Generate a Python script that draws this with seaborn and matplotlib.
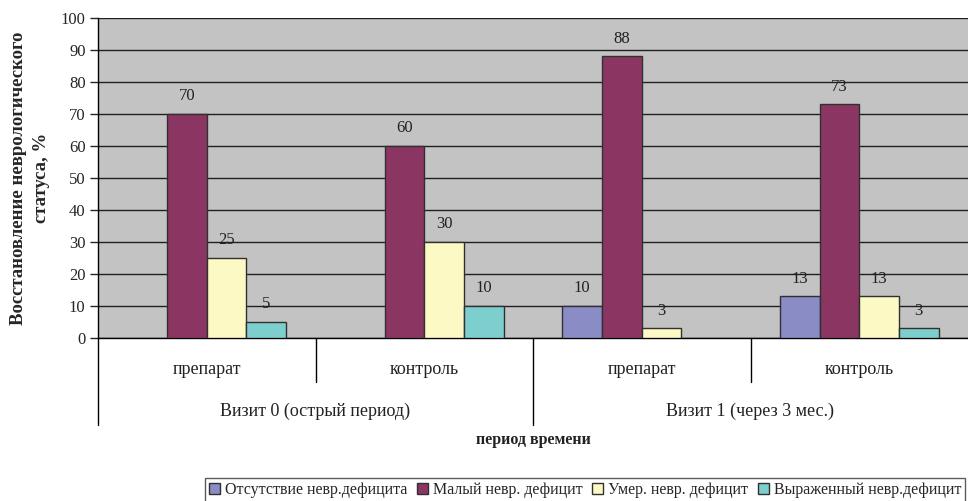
import matplotlib
matplotlib.use("Agg")
import matplotlib.pyplot as plt
import seaborn as sns
import pandas as pd
import numpy as np
from matplotlib.patches import Patch
import matplotlib.transforms as mtransforms

visits = ["Визит 0 (острый период)", "Визит 0 (острый период)",
          "Визит 1 (через 3 мес.)", "Визит 1 (через 3 мес.)"]
groups = ["препарат", "контроль", "препарат", "контроль"]
series = ["Отсутствие невр.дефицита", "Малый невр. дефицит",
          "Умер. невр. дефицит", "Выраженный невр.дефицит"]
v_absent = [np.nan, np.nan, 10, 13]
v_small = [70, 60, 88, 73]
v_moderate = [25, 30, 3, 13]
v_severe = [5, 10, np.nan, 3]
colors = ["#8A8CC6", "#8B3562", "#FCF9C4", "#7CCFCC"]

cats = [f"{v}|{g}|{i}" for i, (v, g) in enumerate(zip(visits, groups))]
rows = []
for s, vals in zip(series, [v_absent, v_small, v_moderate, v_severe]):
    for c, val in zip(cats, vals):
        rows.append({"cat": c, "series": s, "value": val})
df = pd.DataFrame(rows)

sns.set_style("white")
plt.rcParams["font.family"] = ["Liberation Serif", "DejaVu Serif"]

fig = plt.figure(figsize=(9.68, 5.01), dpi=100)
ax = fig.add_axes([98 / 968, 1 - 338 / 501, 870 / 968, 320 / 501])
ax.set_facecolor("#C3C3C3")

sns.barplot(data=df, x="cat", y="value", hue="series", order=cats,
            hue_order=series, palette=colors, width=0.73, gap=0,
            edgecolor="#303030", linewidth=1.0, saturation=1,
            ax=ax, legend=False, zorder=3)

for cont in ax.containers:
    labels = ["" if np.isnan(v) else f"{v:.0f}" for v in cont.datavalues]
    ax.bar_label(cont, labels=labels, padding=7, fontsize=12, color="#222222")

ax.set_ylim(0, 100)
ax.set_xlim(-0.5, 3.5)
ax.set_yticks(range(0, 101, 10))
ax.tick_params(axis="y", labelsize=12, length=6, width=1, direction="out",
               left=True, pad=3)
ax.yaxis.grid(True, color="#202020", linewidth=1.0, zorder=0)
ax.set_axisbelow(True)
ax.set_xticks([])
ax.set_xlabel("")
ax.set_ylabel("Восстановление неврологического\nстатуса, %",
              fontsize=13.5, fontweight="bold", labelpad=8, linespacing=1.45)
for side in ["top", "right"]:
    ax.spines[side].set_visible(False)
ax.spines["left"].set_color("black")
ax.spines["bottom"].set_color("black")
ax.spines["left"].set_linewidth(1)
ax.spines["bottom"].set_linewidth(1)

trans = mtransforms.blended_transform_factory(ax.transData, ax.transAxes)
ax_h = 320.0
def yax(py):
    return -(py - 338) / ax_h

# separators
for x, long in [(-0.5, True), (0.5, False), (1.5, True), (2.5, False)]:
    bottom = 425 if long else 382
    ax.plot([x, x], [0, yax(bottom)], transform=trans, color="black",
            linewidth=1, clip_on=False)

for i, g in enumerate(groups):
    ax.text(i, yax(369), g, transform=trans, ha="center", va="center",
            fontsize=13, color="#222222")
for x, v in [(0.5, visits[0]), (2.5, visits[2])]:
    ax.text(x, yax(411), v, transform=trans, ha="center", va="center",
            fontsize=13, color="#222222")

fig.text(533 / 968, 1 - 440 / 501, "период времени", ha="center",
         va="center", fontsize=11.5, fontweight="bold", color="#222222")

handles = [Patch(facecolor=c, edgecolor="#303030", linewidth=1) for c in colors]
leg = fig.legend(handles, series, loc="center", ncol=4,
                 bbox_to_anchor=(585 / 968, 1 - 490 / 501), fontsize=11.5,
                 frameon=True, fancybox=False, edgecolor="#333333",
                 handlelength=0.7, handleheight=0.7, handletextpad=0.3,
                 columnspacing=0.6, borderpad=0.25, borderaxespad=0)
leg.get_frame().set_linewidth(1)

fig.savefig("out.png", dpi=100)
